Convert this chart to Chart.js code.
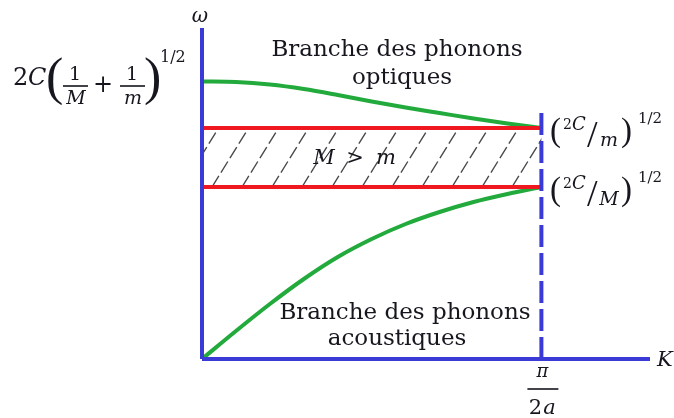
<!DOCTYPE html>
<html>
<head>
<meta charset="utf-8">
<script src="https://cdn.jsdelivr.net/npm/chart.js@4.4.1/dist/chart.umd.min.js"></script>
<style>
  html, body { margin: 0; padding: 0; background: #fff; }
  #wrap { width: 674px; height: 418px; }
</style>
</head>
<body>
<div id="wrap"><canvas id="disp" width="674" height="418"></canvas></div>
<script>
// vecteur d'onde K (en unités de pi/2a) et pulsations omega (unités arbitraires)
const kMax = 1.32;
const wMax = 3.31;
const kPoints = [0, 0.1, 0.2, 0.3, 0.4, 0.5, 0.6, 0.7, 0.8, 0.9, 1.0];
const optique = [2.775, 2.77, 2.745, 2.70, 2.64, 2.575, 2.515, 2.46, 2.405, 2.355, 2.31];
const acoustique = [0, 0.28, 0.55, 0.80, 1.02, 1.20, 1.35, 1.47, 1.57, 1.65, 1.72];
// bornes de la bande interdite : (2C/M)^1/2 et (2C/m)^1/2
const gapBas = 1.72;
const gapHaut = 2.31;
const kBord = 1;       // K = pi/2a
const limiteHaut = 2.52;

const BLEU = 'rgb(58,58,214)';
const VERT = 'rgb(34,170,60)';
const ROUGE = 'rgb(240,24,32)';
const TEXTE = '#16161f';

const pts = (xs, ys) => xs.map((x, i) => ({ x: x, y: ys[i] }));

function ligne(data, color, width, extra) {
  return Object.assign({
    data: data,
    showLine: true,
    borderColor: color,
    borderWidth: width,
    pointRadius: 0,
    fill: false,
    clip: false
  }, extra || {});
}

// hachures dans la bande interdite
const hachures = {
  id: 'hachures',
  beforeDatasetsDraw(chart) {
    const { ctx, scales: { x, y } } = chart;
    const x0 = x.getPixelForValue(0), x1 = x.getPixelForValue(kBord);
    const yT = y.getPixelForValue(gapHaut), yB = y.getPixelForValue(gapBas);
    const h = yB - yT;
    ctx.save();
    ctx.beginPath();
    ctx.rect(x0, yT, x1 - x0, h);
    ctx.clip();
    ctx.strokeStyle = '#4a4a4a';
    ctx.lineWidth = 1.4;
    ctx.setLineDash([13, 4]);
    for (let sx = x0 - 50; sx < x1 + 10; sx += 30) {
      ctx.beginPath();
      ctx.moveTo(sx, yB);
      ctx.lineTo(sx + h * 0.62, yT);
      ctx.stroke();
    }
    ctx.restore();
  }
};

function put(ctx, s, x, y, font, align) {
  ctx.font = font;
  ctx.textAlign = align || 'left';
  ctx.textBaseline = 'alphabetic';
  ctx.fillText(s, x, y);
}

function bar(ctx, xa, xb, yy) {
  ctx.fillRect(xa, yy - 0.8, xb - xa, 1.6);
}

const SERIF = '"DejaVu Serif", serif';
const TIMES = '"Liberation Serif", serif';

// labels et formules
const textes = {
  id: 'textes',
  afterDraw(chart) {
    const { ctx, scales: { x, y } } = chart;
    ctx.save();
    ctx.fillStyle = TEXTE;

    put(ctx, 'Branche des phonons', 397, 56, '23px ' + SERIF, 'center');
    put(ctx, 'optiques', 402, 84, '23px ' + SERIF, 'center');
    put(ctx, 'Branche des phonons', 405, 319, '23px ' + SERIF, 'center');
    put(ctx, 'acoustiques', 397, 345, '23px ' + SERIF, 'center');

    // M > m
    put(ctx, 'M', 324, 164, 'italic 21px ' + SERIF, 'center');
    put(ctx, '>', 355, 164, '21px ' + SERIF, 'center');
    put(ctx, 'm', 386, 164, 'italic 21px ' + SERIF, 'center');

    // axes
    put(ctx, 'ω', x.getPixelForValue(0) - 2, 22, 'italic 20px ' + SERIF, 'center');
    put(ctx, 'K', 657, 366, 'italic 21px ' + SERIF, 'left');
    const xb = x.getPixelForValue(kBord);
    put(ctx, 'π', xb + 1, 377, 'italic 18px ' + SERIF, 'center');
    bar(ctx, xb - 14, xb + 17, 389);
    put(ctx, '2', xb - 6, 414, '21px ' + SERIF, 'center');
    put(ctx, 'a', xb + 8, 414, 'italic 21px ' + SERIF, 'center');

    // 2C (1/M + 1/m)^1/2
    put(ctx, '2', 13, 85, '24px ' + SERIF, 'left');
    put(ctx, 'C', 28, 85, 'italic 24px ' + SERIF, 'left');
    put(ctx, '(', 46, 94, '52px ' + TIMES, 'left');
    put(ctx, '1', 75, 80, '19px ' + SERIF, 'center');
    bar(ctx, 63, 88, 86);
    put(ctx, 'M', 76, 104, 'italic 19px ' + SERIF, 'center');
    put(ctx, '+', 103, 92, '24px ' + SERIF, 'center');
    put(ctx, '1', 132, 80, '19px ' + SERIF, 'center');
    bar(ctx, 120, 145, 86);
    put(ctx, 'm', 133, 104, 'italic 19px ' + SERIF, 'center');
    put(ctx, ')', 144, 94, '52px ' + TIMES, 'left');
    put(ctx, '1/2', 160, 62, '16px ' + SERIF, 'left');

    // (2C/m)^1/2 et (2C/M)^1/2
    [[y.getPixelForValue(gapHaut), 'm'], [y.getPixelForValue(gapBas), 'M']].forEach(([py, masse]) => {
      const b = py + 13;
      put(ctx, '(', 550, b, '33px ' + TIMES, 'left');
      put(ctx, '2', 563, b - 12, '14px ' + SERIF, 'left');
      put(ctx, 'C', 572, b - 11, 'italic 18px ' + SERIF, 'left');
      put(ctx, '/', 587, b + 6, '38px ' + TIMES, 'left');
      put(ctx, masse, 609, b + 5, 'italic 19px ' + SERIF, 'center');
      put(ctx, ')', 621, b, '33px ' + TIMES, 'left');
      put(ctx, '1/2', 638, b - 18, '15px ' + SERIF, 'left');
    });
    ctx.restore();
  }
};

const fond = {
  id: 'fond',
  beforeDraw(chart) {
    const { ctx, width, height } = chart;
    ctx.save();
    ctx.fillStyle = '#fff';
    ctx.fillRect(0, 0, width, height);
    ctx.restore();
  }
};

new Chart(document.getElementById('disp'), {
  type: 'scatter',
  data: {
    datasets: [
      ligne(pts([0, 0], [0, wMax]), BLEU, 4),
      ligne(pts([0, kMax], [0, 0]), BLEU, 4),
      ligne(pts([kBord, kBord], [0, limiteHaut]), BLEU, 4, { borderDash: [22, 6] }),
      ligne(pts([0, kBord], [gapHaut, gapHaut]), ROUGE, 4),
      ligne(pts([0, kBord], [gapBas, gapBas]), ROUGE, 4),
      ligne(pts(kPoints, optique), VERT, 4, { cubicInterpolationMode: 'monotone' }),
      ligne(pts(kPoints, acoustique), VERT, 4, { cubicInterpolationMode: 'monotone' })
    ]
  },
  options: {
    responsive: false,
    animation: false,
    layout: { padding: { left: 202, right: 24, top: 28, bottom: 59 } },
    plugins: { legend: { display: false }, tooltip: { enabled: false } },
    scales: {
      x: { type: 'linear', min: 0, max: kMax, display: false },
      y: { type: 'linear', min: 0, max: wMax, display: false }
    }
  },
  plugins: [fond, hachures, textes]
});
</script>
</body>
</html>
